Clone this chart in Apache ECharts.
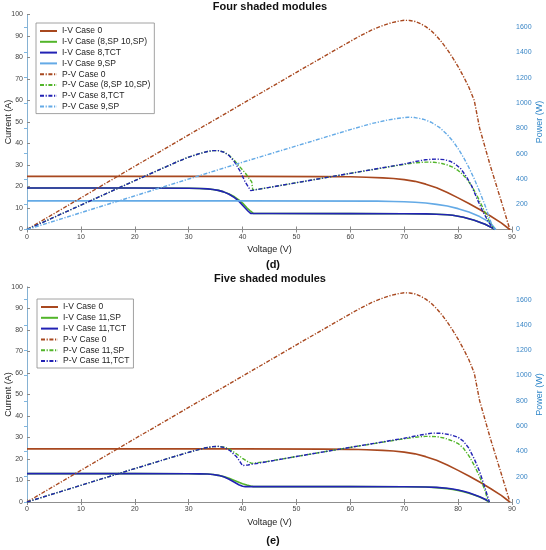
<!DOCTYPE html>
<html><head><meta charset="utf-8">
<script src="https://cdn.jsdelivr.net/npm/echarts@6/dist/echarts.min.js"></script>
<style>html,body{margin:0;padding:0;background:#fff}#c{width:546px;height:550px}</style>
</head><body><div id="c"></div>
<script>
// ---------- Data (Voltage V, Current A, Power W) ----------
const xTicks = [0,10,20,30,40,50,60,70,80,90];
// Case 0 (both panels)
const V0_IV = [0, 20, 40, 55, 60, 63, 66, 68, 70, 72, 74, 76, 78, 80, 82, 84, 86, 88, 89.6];
const I0    = [24.7, 24.7, 24.7, 24.6, 24.5, 24.3, 24.0, 23.7, 23.2, 22.4, 21.1, 19.4, 17.2, 14.7, 12.1, 9.3, 6.3, 3.1, 0];
const V0_PV = [0, 10, 20, 30, 40, 50, 60, 62, 64, 66, 67.5, 69, 70, 71, 72, 73, 74, 75, 76, 77, 78, 79, 80, 81, 82, 83, 84, 86, 88, 89.6];
const P0    = [0, 250, 500, 748, 995, 1243, 1488, 1535, 1578, 1612, 1633, 1648, 1654, 1653, 1645, 1628, 1604, 1572, 1530, 1480, 1422, 1358, 1288, 1210, 1125, 1020, 800, 500, 225, 0];

// Panel (d): four shaded modules
const Vd_SP = [0, 20, 30, 32, 33.5, 34.5, 35.5, 36.5, 37.5, 38.5, 39.3, 40, 40.8, 41.5, 42, 45, 60, 70, 74, 76, 78, 79, 80, 81, 82, 83, 84, 85, 86, 86.8];
const Id_SP = [19.3, 19.3, 19.2, 19.1, 18.9, 18.6, 18.2, 17.5, 16.5, 15.2, 13.8, 12.3, 10.1, 8.5, 7.5, 7.45, 7.4, 7.35, 7.25, 7.1, 6.85, 6.6, 6.2, 5.7, 5.0, 4.3, 3.4, 2.4, 1.2, 0];
const Vd_TCT = [0, 20, 30, 32, 33.5, 34.5, 35.5, 36.5, 37.5, 38.5, 39.3, 40, 41, 41.5, 45, 60, 70, 74, 76, 78, 79, 80, 81, 82, 83, 84, 85, 86, 86.8];
const Id_TCT = [19.3, 19.3, 19.2, 19.1, 18.9, 18.6, 18.2, 17.5, 16.4, 14.8, 13.2, 11.3, 8.6, 7.5, 7.45, 7.4, 7.35, 7.25, 7.1, 6.85, 6.6, 6.2, 5.7, 5.0, 4.3, 3.4, 2.4, 1.2, 0];
const Vd_9 = [0, 40, 65, 68, 70, 72, 74, 76, 78, 80, 82, 84, 85, 86, 87];
const Id_9 = [13.3, 13.3, 13.2, 13.05, 12.9, 12.65, 12.3, 11.7, 10.9, 9.7, 8.1, 6.0, 4.6, 3.0, 0];

const Vd_PSP = [0, 10, 20, 28, 30, 32, 33.5, 34.5, 35.5, 36.5, 37.5, 38.5, 39.5, 40.5, 41.2, 41.7, 41.9, 45, 50, 60, 70, 72, 74, 75.5, 77, 78, 79, 80, 80.8, 81.5, 82.5, 83.5, 84.5, 85.5, 86.2, 86.8];
const Pd_SP  = [0, 193, 386, 538, 572, 600, 617, 624, 624, 613, 588, 545, 495, 447, 405, 377, 312, 333, 370, 444, 515, 527, 533, 532, 522, 510, 493, 467, 437, 405, 345, 268, 180, 90, 35, 0];
const Vd_PTCT = [0, 10, 20, 28, 30, 32, 33.5, 34.5, 35.5, 36.5, 37.5, 38.5, 39.5, 40.5, 41.5, 45, 50, 60, 70, 72, 74, 76, 77.5, 78.5, 79.5, 80.5, 81.5, 82.5, 83.5, 84.5, 85.5, 86.2, 86.8];
const Pd_TCT  = [0, 193, 386, 538, 572, 600, 617, 624, 624, 612, 585, 535, 465, 375, 307, 333, 370, 444, 518, 537, 552, 557, 552, 540, 517, 480, 420, 345, 245, 150, 70, 25, 0];
const Vd_P9 = [0, 20, 40, 60, 64, 67, 69, 70.7, 72, 73.5, 75, 76.6, 78, 79, 80, 81, 82, 83, 84, 85, 86.2, 86.8];
const Pd_9  = [0, 266, 532, 790, 838, 866, 880, 888, 885, 872, 848, 805, 750, 700, 640, 570, 490, 400, 300, 190, 45, 0];

// Panel (e): five shaded modules
const Ve_SP = [0, 20, 30, 32, 33.5, 34.5, 35.5, 36.5, 37.5, 38.5, 39.3, 40, 40.8, 41.5, 42, 45, 60, 70, 74, 76, 78, 79, 80, 81, 82, 83, 84, 85, 85.8];
const Ie_SP = [13.2, 13.2, 13.15, 13.1, 13.0, 12.8, 12.4, 11.8, 11.0, 10.0, 9.2, 8.5, 7.9, 7.4, 7.15, 7.15, 7.15, 7.1, 6.95, 6.7, 6.2, 5.85, 5.4, 4.8, 4.1, 3.3, 2.3, 1.2, 0];
const Ve_TCT = [0, 20, 30, 32, 33.5, 34.5, 35.5, 36.5, 37.5, 38.5, 39.3, 40, 40.5, 45, 60, 70, 74, 76, 78, 79, 80, 81, 82, 83, 84, 85, 85.8];
const Ie_TCT = [13.2, 13.2, 13.15, 13.1, 13.0, 12.8, 12.4, 11.7, 10.6, 9.2, 8.0, 7.3, 7.15, 7.15, 7.15, 7.1, 7.0, 6.8, 6.4, 6.05, 5.6, 5.0, 4.3, 3.4, 2.4, 1.3, 0];

const Ve_PSP = [0, 10, 20, 28, 31, 33, 34.5, 35.5, 36.5, 37.6, 38.9, 40, 41, 41.7, 42, 45, 50, 60, 70, 72, 74, 76, 77.5, 79, 80, 81, 82, 83, 84, 85, 85.6];
const Pe_SP  = [0, 132, 264, 368, 405, 427, 438, 440, 435, 418, 380, 345, 318, 305, 302, 323, 360, 432, 500, 512, 519, 517, 505, 482, 462, 425, 365, 290, 200, 90, 0];
const Ve_PTCT = [0, 10, 20, 28, 31, 33, 34.5, 35.5, 36.5, 37.6, 38.9, 40, 41, 45, 50, 60, 70, 73, 75.3, 77, 78.5, 80, 81, 82, 83, 84, 85, 85.8];
const Pe_TCT  = [0, 132, 264, 368, 405, 427, 438, 440, 432, 409, 357, 288, 293, 322, 360, 432, 504, 530, 545, 543, 532, 512, 480, 425, 340, 240, 110, 0];

// ---------- Styling ----------
const C0 = '#A8481F', CG = '#52B52A', CB = '#2222B4', CL = '#64AAE6';
const FONT = 'Liberation Sans, Arial, sans-serif';
const DASHDOT = [4, 1.6, 1.2, 1.6];
const pairs = (xs, ys) => xs.map((x, i) => [x, ys[i]]);

function iv(name, xs, ys, color, gi) {
  return { name, type: 'line', xAxisIndex: gi*2, yAxisIndex: gi*2, data: pairs(xs, ys),
    symbol: 'none', showSymbol: false, smooth: false, animation: false,
    lineStyle: { color, width: 1.6, type: 'solid' }, itemStyle: { color } };
}
function pv(name, xs, ys, color, gi) {
  return { name, type: 'line', xAxisIndex: gi*2, yAxisIndex: gi*2+1, data: pairs(xs, ys),
    symbol: 'none', showSymbol: false, smooth: false, animation: false,
    lineStyle: { color, width: 1.4, type: DASHDOT }, itemStyle: { color } };
}

const gridTops = [14.5, 287];
const H = 215;

function xAxes(gi) {
  const base = { type: 'value', gridIndex: gi, min: 0, max: 90, interval: 10,
    axisLine: { lineStyle: { color: '#8a8a8a', width: 0.8 } },
    axisTick: { inside: true, length: 3, lineStyle: { color: '#8a8a8a' } },
    splitLine: { show: false } };
  return [
    Object.assign({}, base, { position: 'bottom',
      axisLabel: { fontSize: 7, color: '#444', margin: 4, fontFamily: FONT },
      name: 'Voltage (V)', nameLocation: 'middle', nameGap: 16, nameMoveOverlap: false,
      nameTextStyle: { fontSize: 9, color: '#222', fontFamily: FONT } }),
    Object.assign({}, base, { position: 'top', axisLabel: { show: false } })
  ];
}
function yAxes(gi) {
  return [
    { type: 'value', gridIndex: gi, min: 0, max: 100, interval: 10, position: 'left',
      axisLine: { show: true, lineStyle: { color: '#8a8a8a', width: 0.8 } },
      axisTick: { show: true, inside: true, length: 3, lineStyle: { color: '#8a8a8a' } },
      axisLabel: { fontSize: 7, color: '#444', margin: 4, fontFamily: FONT },
      splitLine: { show: false },
      name: 'Current (A)', nameLocation: 'middle', nameGap: 14, nameRotate: 90, nameMoveOverlap: false,
      nameTextStyle: { fontSize: 9, color: '#222', fontFamily: FONT } },
    { type: 'value', gridIndex: gi, min: 0, max: 1700, interval: 200, position: 'right',
      axisLine: { show: true, lineStyle: { color: '#7fb6e0', width: 0.8 } },
      axisTick: { show: true, inside: true, length: 3, lineStyle: { color: '#7fb6e0' } },
      axisLabel: { fontSize: 7, color: '#3a86c6', margin: 4, fontFamily: FONT, showMaxLabel: false,
        formatter: v => String(v) },
      splitLine: { show: false },
      name: 'Power (W)', nameLocation: 'middle', nameGap: 23, nameRotate: 90, nameMoveOverlap: false,
      nameTextStyle: { fontSize: 9, color: '#2f86c8', fontFamily: FONT } }
  ];
}

const namesD = ['I-V Case 0','I-V Case (8,SP 10,SP)','I-V Case 8,TCT','I-V Case 9,SP',
                'P-V Case 0','P-V Case (8,SP 10,SP)','P-V Case 8,TCT','P-V Case 9,SP'];
const namesE = ['I-V Case 0','I-V Case 11,SP','I-V Case 11,TCT','P-V Case 0','P-V Case 11,SP','P-V Case 11,TCT'];

const series = [
  iv(namesD[0], V0_IV, I0, C0, 0),
  iv(namesD[1], Vd_SP, Id_SP, CG, 0),
  iv(namesD[2], Vd_TCT, Id_TCT, CB, 0),
  iv(namesD[3], Vd_9, Id_9, CL, 0),
  pv(namesD[4], V0_PV, P0, C0, 0),
  pv(namesD[5], Vd_PSP, Pd_SP, CG, 0),
  pv(namesD[6], Vd_PTCT, Pd_TCT, CB, 0),
  pv(namesD[7], Vd_P9, Pd_9, CL, 0),
  iv(namesE[0], V0_IV, I0, C0, 1),
  iv(namesE[1], Ve_SP, Ie_SP, CG, 1),
  iv(namesE[2], Ve_TCT, Ie_TCT, CB, 1),
  pv(namesE[3], V0_PV, P0, C0, 1),
  pv(namesE[4], Ve_PSP, Pe_SP, CG, 1),
  pv(namesE[5], Ve_PTCT, Pe_TCT, CB, 1)
];

const legendBase = { orient: 'vertical', itemWidth: 17, itemHeight: 6, itemGap: 0.8,
  backgroundColor: '#fff', borderColor: '#8a8a8a', borderWidth: 0.8, padding: [3, 4, 2, 3],
  itemStyle: { opacity: 0 },
  textStyle: { fontSize: 8.5, color: '#222', fontFamily: FONT, lineHeight: 10 } };

const text = (t, x, y, size, bold) => ({ type: 'text', x, y,
  style: { text: t, align: 'center', verticalAlign: 'middle', fill: '#111',
    font: (bold ? 'bold ' : '') + size + 'px ' + FONT } });

const option = {
  animation: false,
  backgroundColor: '#fff',
  grid: gridTops.map(t => ({ left: 27, right: 34, top: t, height: H, containLabel: false, outerBoundsMode: 'none' })),
  xAxis: [...xAxes(0), ...xAxes(1)],
  yAxis: [...yAxes(0), ...yAxes(1)],
  legend: [
    Object.assign({}, legendBase, { left: 36, top: 23, data: namesD }),
    Object.assign({}, legendBase, { left: 37, top: 299, data: namesE })
  ],
  graphic: [
    text('Four shaded modules', 270, 7, 11, true),
    text('(d)', 273, 265, 11, true),
    text('Five shaded modules', 270, 279, 11, true),
    text('(e)', 273, 541, 11, true)
  ],
  series
};
const chart = echarts.init(document.getElementById('c'), null, { renderer: 'canvas' });
chart.setOption(option);
</script></body></html>
